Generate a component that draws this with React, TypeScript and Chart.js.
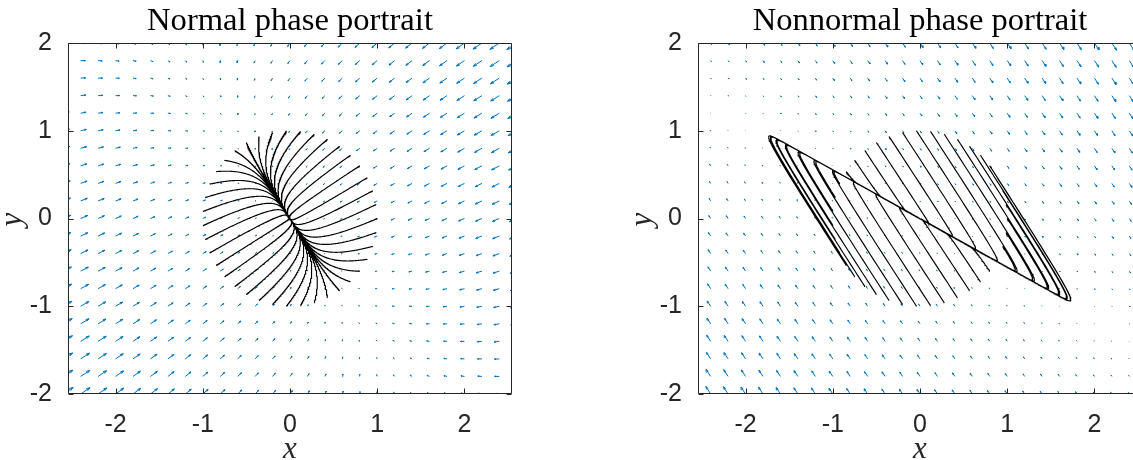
import React, { useEffect, useRef } from "react";
import { Chart, registerables } from "chart.js";

Chart.register(...registerables);

// ---------------- data ----------------
const plotTitles = ["Normal phase portrait", "Nonnormal phase portrait"];
const xAxisLabel = "x";
const yAxisLabel = "y";
const xTicks = [-2, -1, 0, 1, 2];
const yTicks = [-2, -1, 0, 1, 2];
const xRange = [-2.545, 2.545];
const yRange = [-2, 2];

// quiver grid
const quiverXs = [
  -2.6, -2.4, -2.2, -2.0, -1.8, -1.6, -1.4, -1.2, -1.0, -0.8, -0.6, -0.4, -0.2, 0,
  0.2, 0.4, 0.6, 0.8, 1.0, 1.2, 1.4, 1.6, 1.8, 2.0, 2.2, 2.4, 2.6,
];
const quiverYs = [
  -2.0, -1.8, -1.6, -1.4, -1.2, -1.0, -0.8, -0.6, -0.4, -0.2, 0, 0.2, 0.4, 0.6, 0.8,
  1.0, 1.2, 1.4, 1.6, 1.8, 2.0,
];

// initial conditions on the unit circle (degrees)
const startAnglesDeg = [
  0, 9.23, 18.46, 27.69, 36.92, 46.15, 55.38, 64.62, 73.85, 83.08, 92.31, 101.54,
  110.77, 120.0, 129.23, 138.46, 147.69, 156.92, 166.15, 175.38, 184.62, 193.85,
  203.08, 212.31, 221.54, 230.77, 240.0, 249.23, 258.46, 267.69, 276.92, 286.15,
  295.38, 304.62, 313.85, 323.08, 332.31, 341.54, 350.77, 360.0,
];

// linear systems x' = A x, given by eigenvalues and eigenvector directions
const normalEigenvalues = [-1, -4];
const normalEigenvectorAnglesDeg = [122, 32];
const nonnormalEigenvalues = [-1, -50];
const nonnormalEigenvectorAnglesDeg = [-29, -56.5];
// longest quiver arrow in each panel (data units)
const maxArrowLengths = [0.137, 0.105];
const endTime = 6;

// ---------------- helpers ----------------
type Sys = { lam: number[]; v: number[][]; inv: number[][]; A: number[][] };
type Pt = { x: number | null; y: number | null };

function makeSystem(lam: number[], anglesDeg: number[]): Sys {
  const v = anglesDeg.map((a) => [Math.cos((a * Math.PI) / 180), Math.sin((a * Math.PI) / 180)]);
  const det = v[0][0] * v[1][1] - v[1][0] * v[0][1];
  const inv = [
    [v[1][1] / det, -v[1][0] / det],
    [-v[0][1] / det, v[0][0] / det],
  ];
  const A = [
    [0, 0],
    [0, 0],
  ];
  for (let i = 0; i < 2; i++)
    for (let j = 0; j < 2; j++) {
      let s = 0;
      for (let k = 0; k < 2; k++) s += v[k][i] * lam[k] * inv[k][j];
      A[i][j] = s;
    }
  return { lam, v, inv, A };
}

function trajectoryData(sys: Sys): Pt[] {
  const pts: Pt[] = [];
  const N = 320;
  startAnglesDeg.forEach((deg) => {
    const x0 = Math.cos((deg * Math.PI) / 180);
    const y0 = Math.sin((deg * Math.PI) / 180);
    const c0 = sys.inv[0][0] * x0 + sys.inv[0][1] * y0;
    const c1 = sys.inv[1][0] * x0 + sys.inv[1][1] * y0;
    for (let k = 0; k <= N; k++) {
      const t = endTime * (k / N) * (k / N);
      const e0 = c0 * Math.exp(sys.lam[0] * t);
      const e1 = c1 * Math.exp(sys.lam[1] * t);
      pts.push({ x: e0 * sys.v[0][0] + e1 * sys.v[1][0], y: e0 * sys.v[0][1] + e1 * sys.v[1][1] });
    }
    pts.push({ x: null, y: null });
  });
  return pts;
}

function quiverData(sys: Sys, maxLen: number): Pt[] {
  const pts: Pt[] = [];
  const alpha = 0.33;
  const beta = 0.33;
  let maxMag = 0;
  quiverYs.forEach((y) =>
    quiverXs.forEach((x) => {
      const u = sys.A[0][0] * x + sys.A[0][1] * y;
      const w = sys.A[1][0] * x + sys.A[1][1] * y;
      maxMag = Math.max(maxMag, Math.hypot(u, w));
    })
  );
  const scale = maxLen / maxMag;
  quiverYs.forEach((y) => {
    quiverXs.forEach((x) => {
      const u = (sys.A[0][0] * x + sys.A[0][1] * y) * scale;
      const w = (sys.A[1][0] * x + sys.A[1][1] * y) * scale;
      const tx = x + u;
      const ty = y + w;
      pts.push({ x, y }, { x: tx, y: ty }, { x: null, y: null });
      pts.push(
        { x: tx - alpha * (u + beta * w), y: ty - alpha * (w - beta * u) },
        { x: tx, y: ty },
        { x: tx - alpha * (u - beta * w), y: ty - alpha * (w + beta * u) },
        { x: null, y: null }
      );
    });
  });
  return pts;
}

const systems = [
  makeSystem(normalEigenvalues, normalEigenvectorAnglesDeg),
  makeSystem(nonnormalEigenvalues, nonnormalEigenvectorAnglesDeg),
];

const AXIS_COLOR = "#262626";
const TICK_FONT = { family: "'Liberation Sans', Arial, Helvetica, sans-serif", size: 25 };
const SERIF = "'Liberation Serif', 'Times New Roman', serif";

function makeDecorPlugin(title: string) {
  return {
    id: "decor",
    afterDraw(chart: any) {
      const ctx = chart.ctx as CanvasRenderingContext2D;
      const a = chart.chartArea;
      const xs = chart.scales.x;
      const ys = chart.scales.y;
      ctx.save();
      ctx.strokeStyle = AXIS_COLOR;
      ctx.lineWidth = 1;
      const L = Math.round(a.left) + 0.5;
      const R = Math.round(a.right) - 0.5;
      const T = Math.round(a.top) + 0.5;
      const B = Math.round(a.bottom) - 0.5;
      ctx.beginPath();
      ctx.rect(L, T, R - L, B - T);
      const tl = 5;
      xTicks.forEach((v) => {
        const px = Math.round(xs.getPixelForValue(v)) + 0.5;
        ctx.moveTo(px, B);
        ctx.lineTo(px, B - tl);
        ctx.moveTo(px, T);
        ctx.lineTo(px, T + tl);
      });
      yTicks.forEach((v) => {
        const py = Math.round(ys.getPixelForValue(v)) + 0.5;
        ctx.moveTo(L, py);
        ctx.lineTo(L + tl, py);
        ctx.moveTo(R, py);
        ctx.lineTo(R - tl, py);
      });
      ctx.stroke();

      const cx = (a.left + a.right) / 2;
      ctx.fillStyle = "#000";
      ctx.textAlign = "center";
      ctx.textBaseline = "alphabetic";
      ctx.font = `32.6px ${SERIF}`;
      ctx.fillText(title, cx, 30);

      ctx.font = `italic 31px ${SERIF}`;
      ctx.fillStyle = AXIS_COLOR;
      ctx.fillText(xAxisLabel, cx, 458);
      ctx.translate(a.left - 47, (a.top + a.bottom) / 2 + 1);
      ctx.rotate(-Math.PI / 2);
      ctx.fillText(yAxisLabel, 0, 0);
      ctx.restore();
    },
  };
}

function PhasePlot({ index, left, width }: { index: number; left: number; width: number }) {
  const ref = useRef<HTMLCanvasElement | null>(null);
  useEffect(() => {
    if (!ref.current) return;
    const sys = systems[index];
    const chart = new Chart(ref.current, {
      type: "scatter",
      data: {
        datasets: [
          {
            data: trajectoryData(sys) as any,
            showLine: true,
            borderColor: "#000000",
            borderWidth: 1.15,
            pointRadius: 0,
            spanGaps: false,
            order: 1,
          },
          {
            data: quiverData(sys, maxArrowLengths[index]) as any,
            showLine: true,
            borderColor: "#0072BD",
            borderWidth: 1,
            pointRadius: 0,
            spanGaps: false,
            order: 2,
          },
        ],
      },
      options: {
        animation: false,
        responsive: false,
        maintainAspectRatio: false,
        devicePixelRatio: 1,
        events: [],
        layout: { padding: { left: 0, top: 43, right: width - 68 - 444, bottom: 0 } },
        plugins: { legend: { display: false }, tooltip: { enabled: false }, title: { display: false } },
        scales: {
          x: {
            type: "linear",
            min: xRange[0],
            max: xRange[1],
            grid: { display: false },
            border: { display: false },
            ticks: { font: TICK_FONT, color: AXIS_COLOR, padding: 8, maxRotation: 0 },
            afterBuildTicks: (s: any) => {
              s.ticks = xTicks.map((v) => ({ value: v }));
            },
            afterFit: (s: any) => {
              s.height = 66;
            },
          },
          y: {
            type: "linear",
            min: yRange[0],
            max: yRange[1],
            grid: { display: false },
            border: { display: false },
            ticks: { font: TICK_FONT, color: AXIS_COLOR, padding: 8 },
            afterBuildTicks: (s: any) => {
              s.ticks = yTicks.map((v) => ({ value: v }));
            },
            afterFit: (s: any) => {
              s.width = 68;
            },
          },
        },
      } as any,
      plugins: [makeDecorPlugin(plotTitles[index])],
    });
    return () => chart.destroy();
  }, [index, width]);
  return (
    <canvas
      ref={ref}
      width={width}
      height={460}
      style={{ position: "absolute", left, top: 0, width, height: 460 }}
    />
  );
}

export default function App() {
  return (
    <div
      style={{
        position: "fixed",
        left: 0,
        top: 0,
        width: 1133,
        height: 460,
        overflow: "hidden",
        background: "#fff",
      }}
    >
      <PhasePlot index={0} left={0} width={600} />
      <PhasePlot index={1} left={630} width={600} />
    </div>
  );
}
